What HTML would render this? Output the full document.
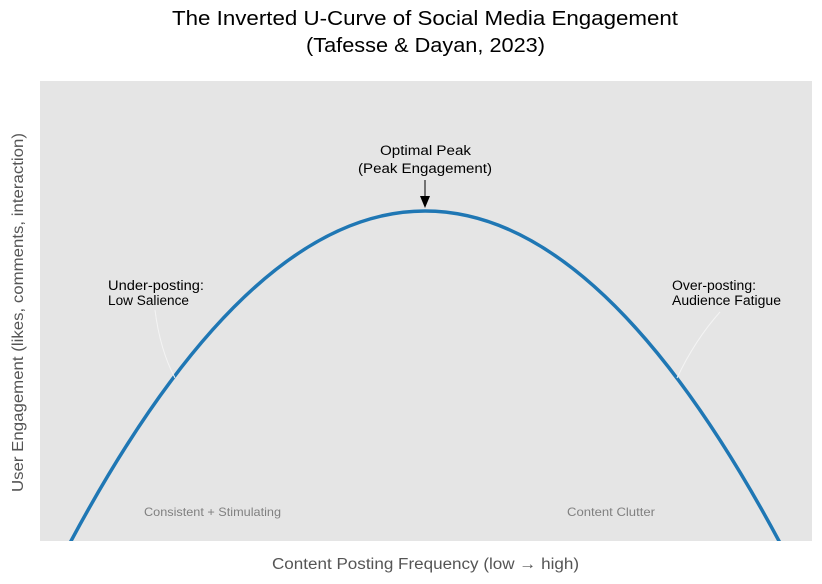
<!DOCTYPE html>
<html><head><meta charset="utf-8"><style>
body{margin:0;background:#fff;}
svg{display:block;font-family:"Liberation Sans",sans-serif;}
</style></head><body>
<svg width="822" height="584" viewBox="0 0 822 584">
<defs><clipPath id="c"><rect x="40" y="81" width="772" height="460"/></clipPath></defs>
<text x="172" y="25" font-size="20" fill="#000" textLength="506" lengthAdjust="spacingAndGlyphs">The Inverted U-Curve of Social Media Engagement</text>
<text x="306" y="52" font-size="20" fill="#000" textLength="239" lengthAdjust="spacingAndGlyphs">(Tafesse &amp; Dayan, 2023)</text>
<rect x="40" y="81" width="772" height="460" fill="#e5e5e5"/>
<g clip-path="url(#c)">
<path d="M55,571.5 Q425,-149.5 795,571.5" fill="none" stroke="#1f77b4" stroke-width="3.5"/>
</g>
<path d="M155,310 Q160,350 175,378" fill="none" stroke="#f4f4f4" stroke-width="1"/>
<path d="M720,312 Q695,340 677,378" fill="none" stroke="#f4f4f4" stroke-width="1"/>
<line x1="425" y1="180" x2="425" y2="196" stroke="#000" stroke-width="1"/>
<polygon points="420,196 430,196 425,208" fill="#000"/>
<text x="380" y="155" font-size="13.5" textLength="91" lengthAdjust="spacingAndGlyphs">Optimal Peak</text>
<text x="358" y="173" font-size="13.5" textLength="134" lengthAdjust="spacingAndGlyphs">(Peak Engagement)</text>
<text x="108" y="290" font-size="13.5" textLength="96" lengthAdjust="spacingAndGlyphs">Under-posting:</text>
<text x="108" y="305" font-size="13.5" textLength="81" lengthAdjust="spacingAndGlyphs">Low Salience</text>
<text x="672" y="290" font-size="13.5" textLength="84" lengthAdjust="spacingAndGlyphs">Over-posting:</text>
<text x="672" y="305" font-size="13.5" textLength="109" lengthAdjust="spacingAndGlyphs">Audience Fatigue</text>
<text x="144" y="516" font-size="12" fill="#808080" textLength="137" lengthAdjust="spacingAndGlyphs">Consistent + Stimulating</text>
<text x="567" y="516" font-size="12" fill="#808080" textLength="88" lengthAdjust="spacingAndGlyphs">Content Clutter</text>
<text x="272" y="569" font-size="15.5" fill="#555" textLength="307" lengthAdjust="spacingAndGlyphs">Content Posting Frequency (low → high)</text>
<text transform="translate(23,492) rotate(-90)" font-size="15.5" fill="#555" textLength="359" lengthAdjust="spacingAndGlyphs">User Engagement (likes, comments, interaction)</text>
</svg>
</body></html>
